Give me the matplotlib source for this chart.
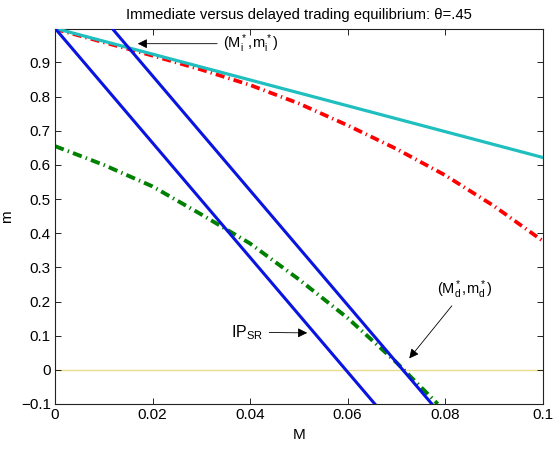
import matplotlib
matplotlib.use('Agg')
import matplotlib.pyplot as plt

plt.rcParams['font.family'] = ['Liberation Sans', 'DejaVu Sans']
plt.rcParams['font.size'] = 10
plt.rcParams['mathtext.fontset'] = 'custom'
plt.rcParams['mathtext.rm'] = 'Liberation Sans'
plt.rcParams['mathtext.it'] = 'Liberation Sans:italic'

# --- data ---
M_grid = [0, 0.01, 0.02, 0.03, 0.04, 0.05, 0.06, 0.07, 0.08, 0.09, 0.1]
m_red = [0.998, 0.959, 0.92, 0.879, 0.834, 0.78, 0.716, 0.647, 0.57, 0.48, 0.378]

M_green = [0, 0.01, 0.02, 0.03, 0.04, 0.05, 0.06, 0.07, 0.0785]
m_green = [0.655, 0.60, 0.537, 0.455, 0.37, 0.265, 0.152, 0.022, -0.1]

M_cyan = [0, 0.1]
m_cyan = [1.0, 0.622]

M_ip1 = [0, 0.0656]
m_ip1 = [1.0, -0.1]
M_ip2 = [0.0117, 0.0773]
m_ip2 = [1.0, -0.1]

xticks = [0, 0.02, 0.04, 0.06, 0.08, 0.1]
xlabels = ['0', '0.02', '0.04', '0.06', '0.08', '0.1']
yticks = [-0.1, 0, 0.1, 0.2, 0.3, 0.4, 0.5, 0.6, 0.7, 0.8, 0.9]
ylabels = ['\u22120.1', '0', '0.1', '0.2', '0.3', '0.4', '0.5', '0.6', '0.7', '0.8', '0.9']

fig = plt.figure(figsize=(5.54, 4.58), dpi=100)
ax = fig.add_axes([0.0993, 0.118, 0.8800, 0.8187])

dashdot = (0, (2.4, 1.1, 0.35, 1.1))
ax.axhline(0, color='#e8dc8a', linewidth=1.0, zorder=1)
ax.plot(M_grid, m_red, color='#ff0000', linewidth=2.7, linestyle=dashdot, zorder=2)
ax.plot(M_green, m_green, color='#008000', linewidth=2.8, linestyle=dashdot, zorder=2)
ax.plot(M_cyan, m_cyan, color='#1fbfbf', linewidth=2.3, zorder=3)
ax.plot(M_ip1, m_ip1, color='#0a14e0', linewidth=2.2, zorder=4)
ax.plot(M_ip2, m_ip2, color='#0a14e0', linewidth=2.2, zorder=4)

arrow = dict(arrowstyle='-|>', color='black', lw=0.6, mutation_scale=14)
ax.annotate('(M$_{\\rm i}^{\\rm *}$,m$_{\\rm i}^{\\rm *}$)', xy=(0.0164, 0.955), xytext=(0.0344, 0.955),
            ha='left', va='center', fontsize=10.5, arrowprops=arrow)
ax.annotate('(M$_{\\rm d}^{\\rm *}$,m$_{\\rm d}^{\\rm *}$)', xy=(0.0723, 0.027), xytext=(0.0841, 0.235),
            ha='center', va='center', fontsize=10.5, arrowprops=arrow)
ax.annotate('IP$_{\\rm SR}$', xy=(0.0523, 0.108), xytext=(0.0362, 0.11),
            ha='left', va='center', fontsize=11.5, arrowprops=arrow)

ax.set_xlim(0, 0.1)
ax.set_ylim(-0.1, 0.998)
ax.set_xticks(xticks)
ax.set_xticklabels(xlabels)
ax.set_yticks(yticks)
ax.set_yticklabels(ylabels)
ax.tick_params(direction='in', top=True, right=True, length=4, width=0.6, labelsize=11, pad=3)
for s in ax.spines.values():
    s.set_linewidth(0.8)
    s.set_color('#222222')

ax.set_xlabel('M', fontsize=11, labelpad=4)
ax.set_ylabel('m', fontsize=11)
ax.yaxis.set_label_coords(-0.084, 0.5)
ax.set_title('Immediate versus delayed trading equilibrium: \u03b8=.45', fontsize=10.7, pad=7)

fig.savefig('out.png', dpi=100)
